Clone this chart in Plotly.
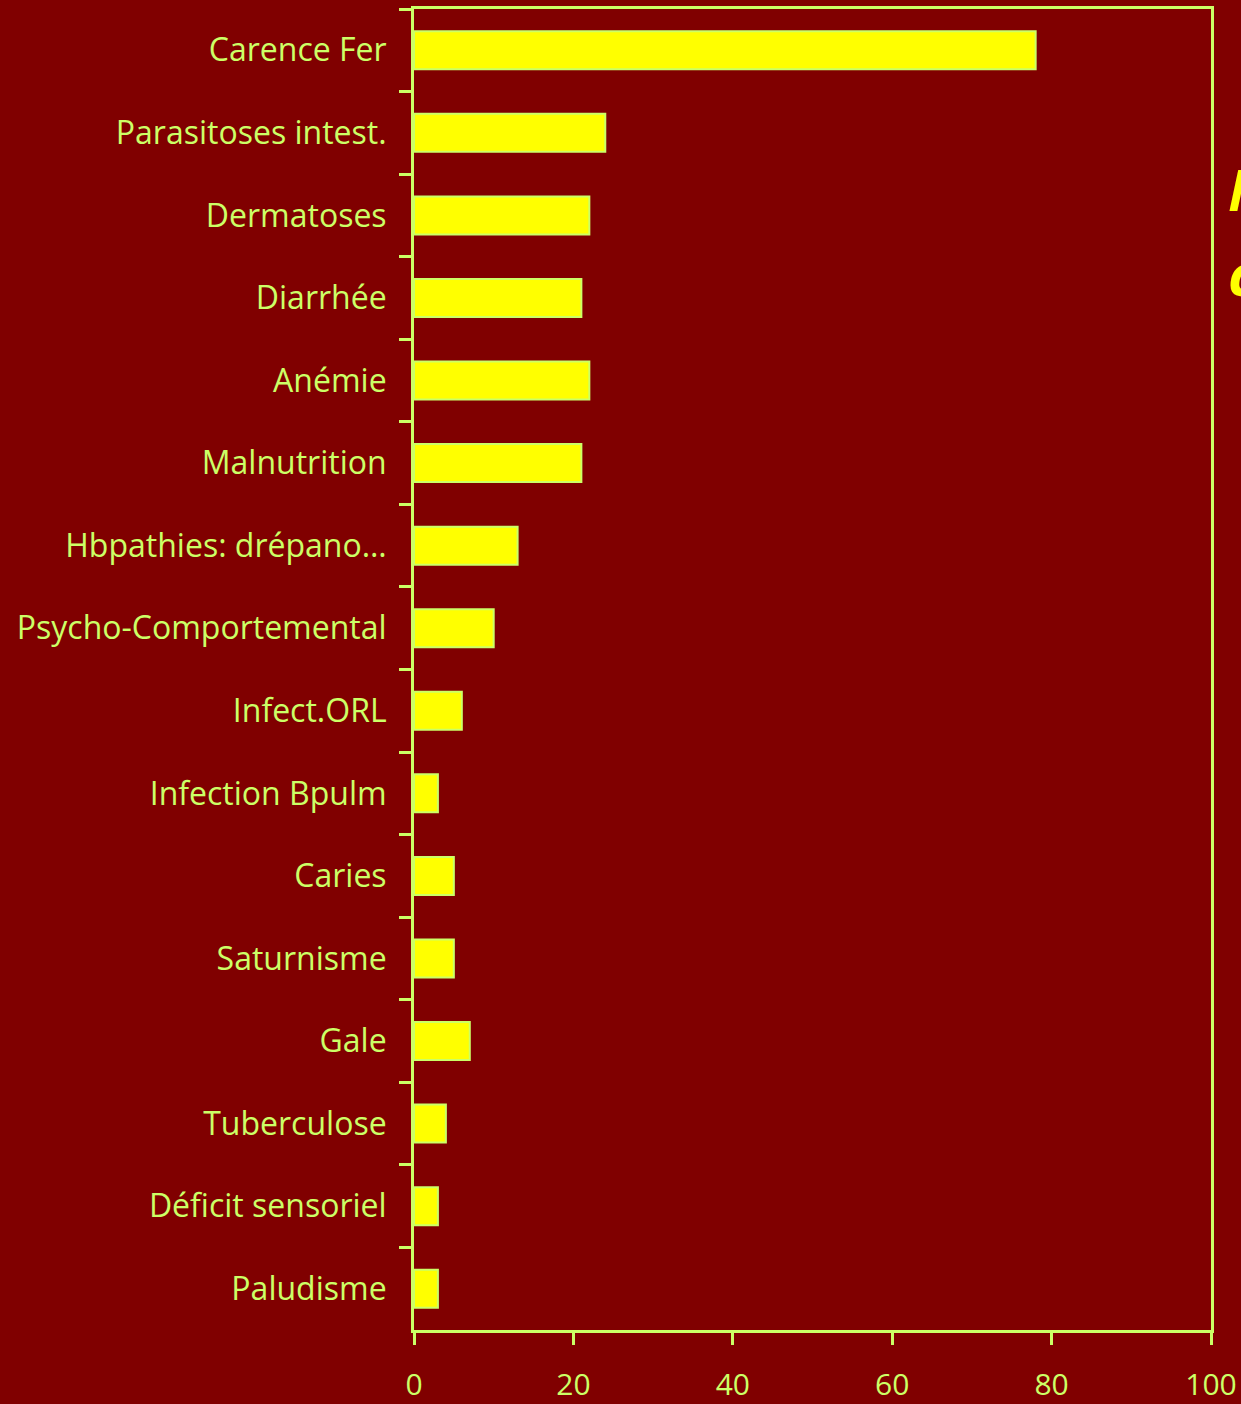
import plotly.graph_objects as go

# Prevalence (%) by condition, top to bottom
conditions = [
    "Carence Fer", "Parasitoses intest.", "Dermatoses", "Diarrhée", "Anémie",
    "Malnutrition", "Hbpathies: drépano…", "Psycho-Comportemental", "Infect.ORL",
    "Infection Bpulm", "Caries", "Saturnisme", "Gale", "Tuberculose",
    "Déficit sensoriel", "Paludisme",
]
values = [78, 24, 22, 21, 22, 21, 13, 10, 6, 3, 5, 5, 7, 4, 3, 3]
x_ticks = [0, 20, 40, 60, 80, 100]

BG = "#800000"
BAR = "#FFFF00"
LINE = "#CCFF66"
FONT = "Comic Sans MS, Open Sans, sans-serif"

W, H = 1241, 1404
ML, MR, MT, MB = 414, 30, 9, 74

fig = go.Figure(
    go.Bar(
        x=values,
        y=conditions,
        orientation="h",
        marker=dict(color=BAR, line=dict(color=LINE, width=2)),
        hoverinfo="x+y",
    )
)

fig.update_layout(
    width=W,
    height=H,
    margin=dict(l=ML, r=MR, t=MT, b=MB, pad=0),
    paper_bgcolor=BG,
    plot_bgcolor=BG,
    bargap=0.54,
    showlegend=False,
    font=dict(family=FONT, color=LINE, size=32),
)

fig.update_xaxes(
    range=[0, 100],
    tickvals=x_ticks,
    ticktext=[str(v) for v in x_ticks],
    automargin=False,
    showgrid=False,
    zeroline=False,
    showline=True,
    linecolor=LINE,
    linewidth=3,
    mirror=True,
    ticks="outside",
    ticklen=12,
    tickwidth=3,
    tickcolor=LINE,
    ticklabelstandoff=14,
    tickfont=dict(size=30, color=LINE, family=FONT),
)

fig.update_yaxes(
    categoryorder="array",
    categoryarray=conditions,
    autorange="reversed",
    automargin=False,
    showgrid=False,
    zeroline=False,
    showline=True,
    linecolor=LINE,
    linewidth=3,
    mirror=True,
    ticks="outside",
    tickson="boundaries",
    ticklen=12,
    tickwidth=3,
    tickcolor=LINE,
    ticklabelstandoff=18,
    tickfont=dict(size=32, color=LINE, family=FONT),
)

# Title running off the right edge of the page
pw = W - ML - MR
ph = H - MT - MB
for txt, ypix in [("M", 188), ("c", 274)]:
    fig.add_annotation(
        text=f"<b><i>{txt}</i></b>",
        xref="paper", yref="paper",
        x=(1226 - ML) / pw,
        y=1 - (ypix - MT) / ph,
        xanchor="left", yanchor="middle",
        showarrow=False,
        font=dict(family=FONT, size=58, color=BAR),
    )

fig.write_html("out.html")
